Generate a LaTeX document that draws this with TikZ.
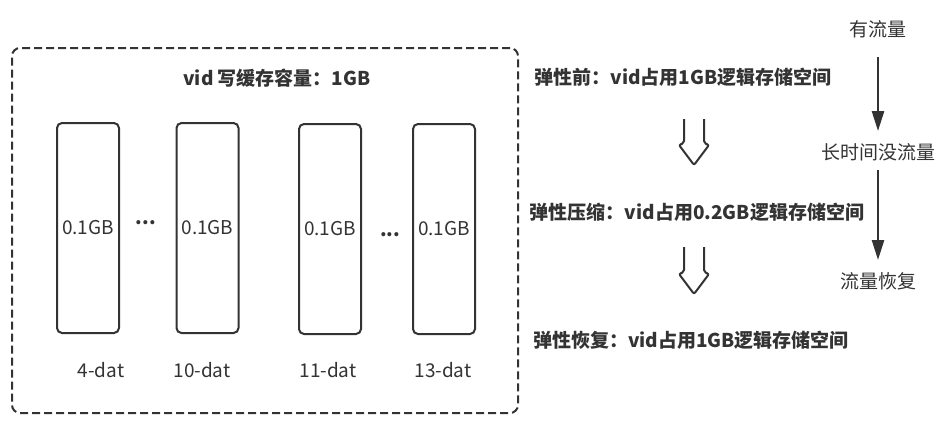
\documentclass[tikz,border=0pt]{standalone}
\usepackage{xcolor}
\usepackage{fontspec}
\setmainfont{Noto Sans CJK SC}
\usepackage{tikz}
\usetikzlibrary{arrows.meta, positioning, calc}
\definecolor{inkgray}{HTML}{333333}
\tikzset{
	framebox/.style={draw=inkgray, line width=2pt, rounded corners=8pt, dash pattern=on 8pt off 4pt},
	datbox/.style={draw=inkgray, line width=2pt, rounded corners=5pt, minimum width=62pt, minimum height=210pt, inner sep=0pt, font=\fontsize{19}{22}\selectfont, text=inkgray},
	plaintext/.style={font=\fontsize{19}{22}\selectfont, text=inkgray, inner sep=2pt},
	boldtext/.style={font=\fontsize{19}{22}\selectfont\bfseries, text=inkgray, inner sep=2pt},
	gapdots/.style={font=\fontsize{19}{22}\selectfont\bfseries, text=inkgray, inner sep=0pt},
	flowarr/.style={-{Triangle[length=20pt, width=12pt]}, draw=inkgray, line width=2.5pt},
	hollowarr/.style={draw=inkgray, line width=2pt, rounded corners=2pt},
}
\begin{document}
\begin{tikzpicture}[x=1pt, y=-1pt]
	\useasboundingbox (0,0) rectangle (944,424);
	% left: write cache of one vid
	\node[framebox, minimum width=506pt, minimum height=365pt] (frame) at (265,230.5) {};
	\node[boldtext] (cap) at (277,78) {vid 写缓存容量：1GB};
	\node[datbox] (d4) at (88,228) {0.1GB};
	\node[datbox] (d10) at (207.5,228) {0.1GB};
	\node[datbox] (d11) at (330,229) {0.1GB};
	\node[datbox] (d13) at (444,229) {0.1GB};
	\node[gapdots] (gapa) at (146,223) {...};
	\node[gapdots] (gapb) at (390,235) {...};
	\node[plaintext] (n4) at (101,370) {4-dat};
	\node[plaintext] (n10) at (202,370) {10-dat};
	\node[plaintext] (n11) at (328,370) {11-dat};
	\node[plaintext] (n13) at (443,370) {13-dat};
	% middle: stages
	\node[boldtext] (before) at (683,77) {弹性前：vid占用1GB逻辑存储空间};
	\node[boldtext] (shrink) at (697,212) {弹性压缩：vid占用0.2GB逻辑存储空间};
	\node[boldtext] (restore) at (691,340) {弹性恢复：vid占用1GB逻辑存储空间};
	\foreach \ya/\yb in {119/165, 247/294}{
		\draw[hollowarr] (684,\ya) -- (684,\yb-22) -- (679,\yb-20) -- (694,\yb) -- (709,\yb-20) -- (704,\yb-22) -- (704,\ya);
	}
	% right: traffic
	\node[plaintext] (busy) at (878,29) {有流量};
	\node[plaintext] (idle) at (878,152) {长时间没流量};
	\node[plaintext] (back) at (878,281) {流量恢复};
	\draw[flowarr, shorten <=17pt, shorten >=10pt] (busy) -- (idle);
	\draw[flowarr, shorten <=7pt, shorten >=10pt] (idle) -- (back);
\end{tikzpicture}
\end{document}
